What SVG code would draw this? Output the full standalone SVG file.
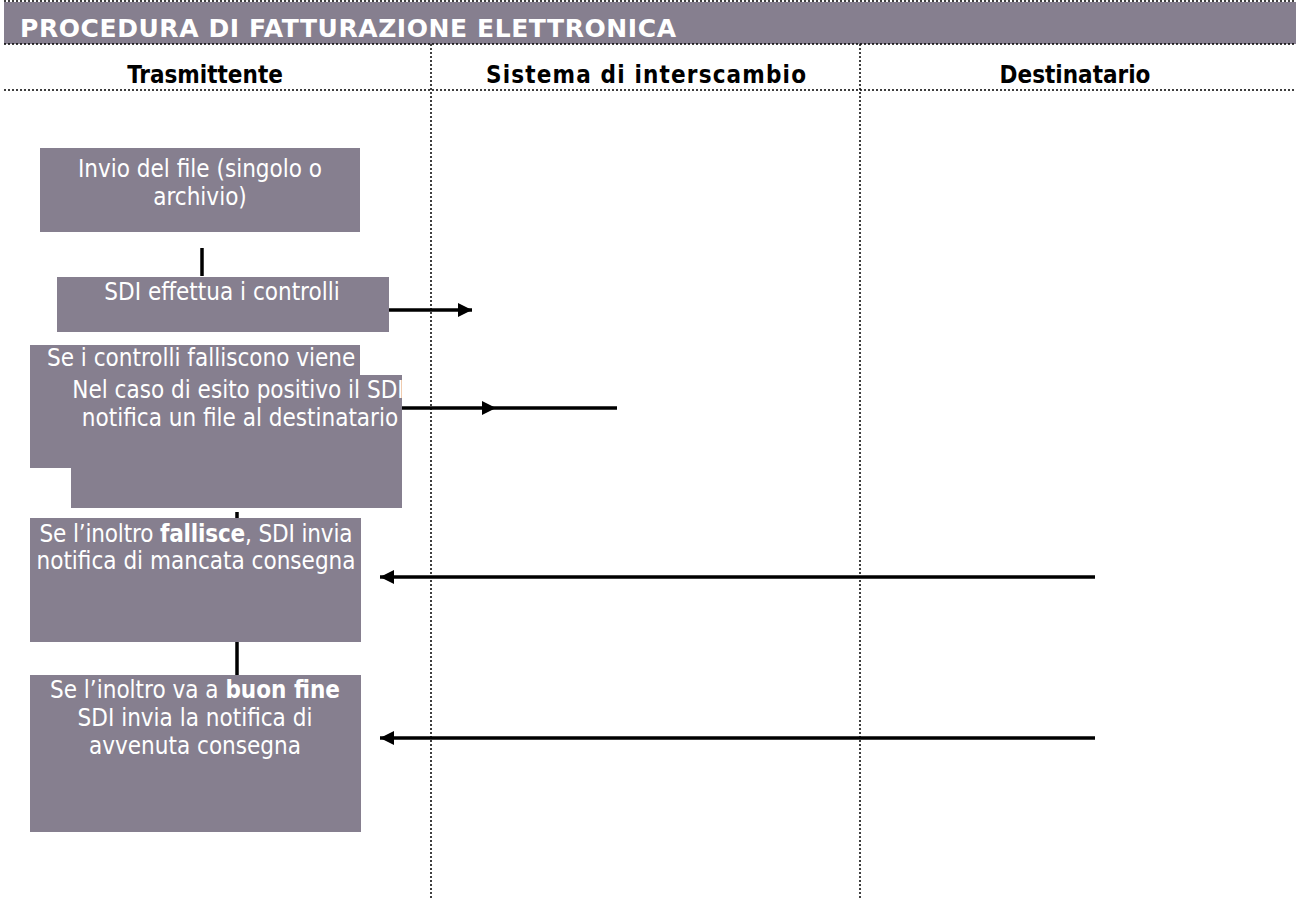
<svg xmlns="http://www.w3.org/2000/svg" width="1296" height="900" viewBox="0 0 1296 900">
<defs>
<style>
.box{fill:#867F8F;}
.t{font-family:"DejaVu Sans Condensed","DejaVu Sans",sans-serif;font-size:24px;fill:#fff;}
.c{text-anchor:middle;}
.hd{font-family:"DejaVu Sans Condensed","DejaVu Sans",sans-serif;font-size:24px;font-weight:bold;fill:#000;text-anchor:middle;}
.dot{stroke:#000;stroke-width:1.5;stroke-dasharray:2 2;fill:none;}
.ln{stroke:#000;stroke-width:3.5;fill:none;}
</style>
<marker id="ah" markerUnits="userSpaceOnUse" markerWidth="16" markerHeight="14" refX="14" refY="7" orient="auto">
<path d="M0,0 L14,7 L0,14 Z" fill="#000"/>
</marker>
</defs>
<rect x="0" y="0" width="1296" height="900" fill="#fff"/>
<g id="header">
<rect x="4" y="2" width="1292" height="42" fill="#867F8F"/>
<text x="20" y="37" font-family="DejaVu Sans, sans-serif" font-size="25" font-weight="bold" fill="#fff" textLength="656">PROCEDURA DI FATTURAZIONE ELETTRONICA</text>
<text class="hd" x="205" y="83">Trasmittente</text>
<text class="hd" x="646" y="83" textLength="320">Sistema di interscambio</text>
<text class="hd" x="1075" y="83">Destinatario</text>
</g>
<g id="grid">
<line class="dot" x1="4" y1="1" x2="1296" y2="1"/>
<line class="dot" x1="4" y1="44" x2="1296" y2="44"/>
<line class="dot" x1="4" y1="90" x2="1296" y2="90"/>
<line class="dot" x1="431" y1="44" x2="431" y2="900"/>
<line class="dot" x1="860" y1="44" x2="860" y2="900"/>
</g>
<g id="n1">
<rect class="box" x="40" y="148" width="320" height="84"/>
<text class="t c" x="200" y="177">Invio del file (singolo o</text>
<text class="t c" x="200" y="205">archivio)</text>
</g>
<g id="n2">
<rect class="box" x="57" y="277" width="332" height="55"/>
<text class="t c" x="222" y="300">SDI effettua i controlli</text>
</g>
<g id="n3">
<rect class="box" x="30" y="345" width="330" height="123"/>
<text class="t" x="47" y="366">Se i controlli falliscono viene</text>
</g>
<g id="n4">
<rect class="box" x="71" y="375" width="331" height="133"/>
<text class="t c" x="238" y="398">Nel caso di esito positivo il SDI</text>
<text class="t c" x="240" y="426">notifica un file al destinatario</text>
</g>
<g id="n5">
<rect class="box" x="30" y="518" width="331" height="124"/>
<text class="t c" x="196" y="542" textLength="313">Se l’inoltro <tspan font-weight="bold">fallisce</tspan>, SDI invia</text>
<text class="t c" x="196" y="569">notifica di mancata consegna</text>
</g>
<g id="n6">
<rect class="box" x="30" y="675" width="331" height="157"/>
<text class="t c" x="195" y="698">Se l’inoltro va a <tspan font-weight="bold">buon fine</tspan></text>
<text class="t c" x="195" y="726">SDI invia la notifica di</text>
<text class="t c" x="195" y="754">avvenuta consegna</text>
</g>
<g id="connectors">
<line class="ln" x1="202" y1="248" x2="202" y2="276"/>
<line class="ln" x1="389" y1="310" x2="472" y2="310" marker-end="url(#ah)"/>
<path class="ln" d="M402,408 L496,408 L617,408" marker-mid="url(#ah)"/>
<line class="ln" x1="237" y1="512" x2="237" y2="518"/>
<line class="ln" x1="237" y1="642" x2="237" y2="675"/>
<line class="ln" x1="1095" y1="577" x2="380" y2="577" marker-end="url(#ah)"/>
<line class="ln" x1="1095" y1="738" x2="380" y2="738" marker-end="url(#ah)"/>
</g>
</svg>
